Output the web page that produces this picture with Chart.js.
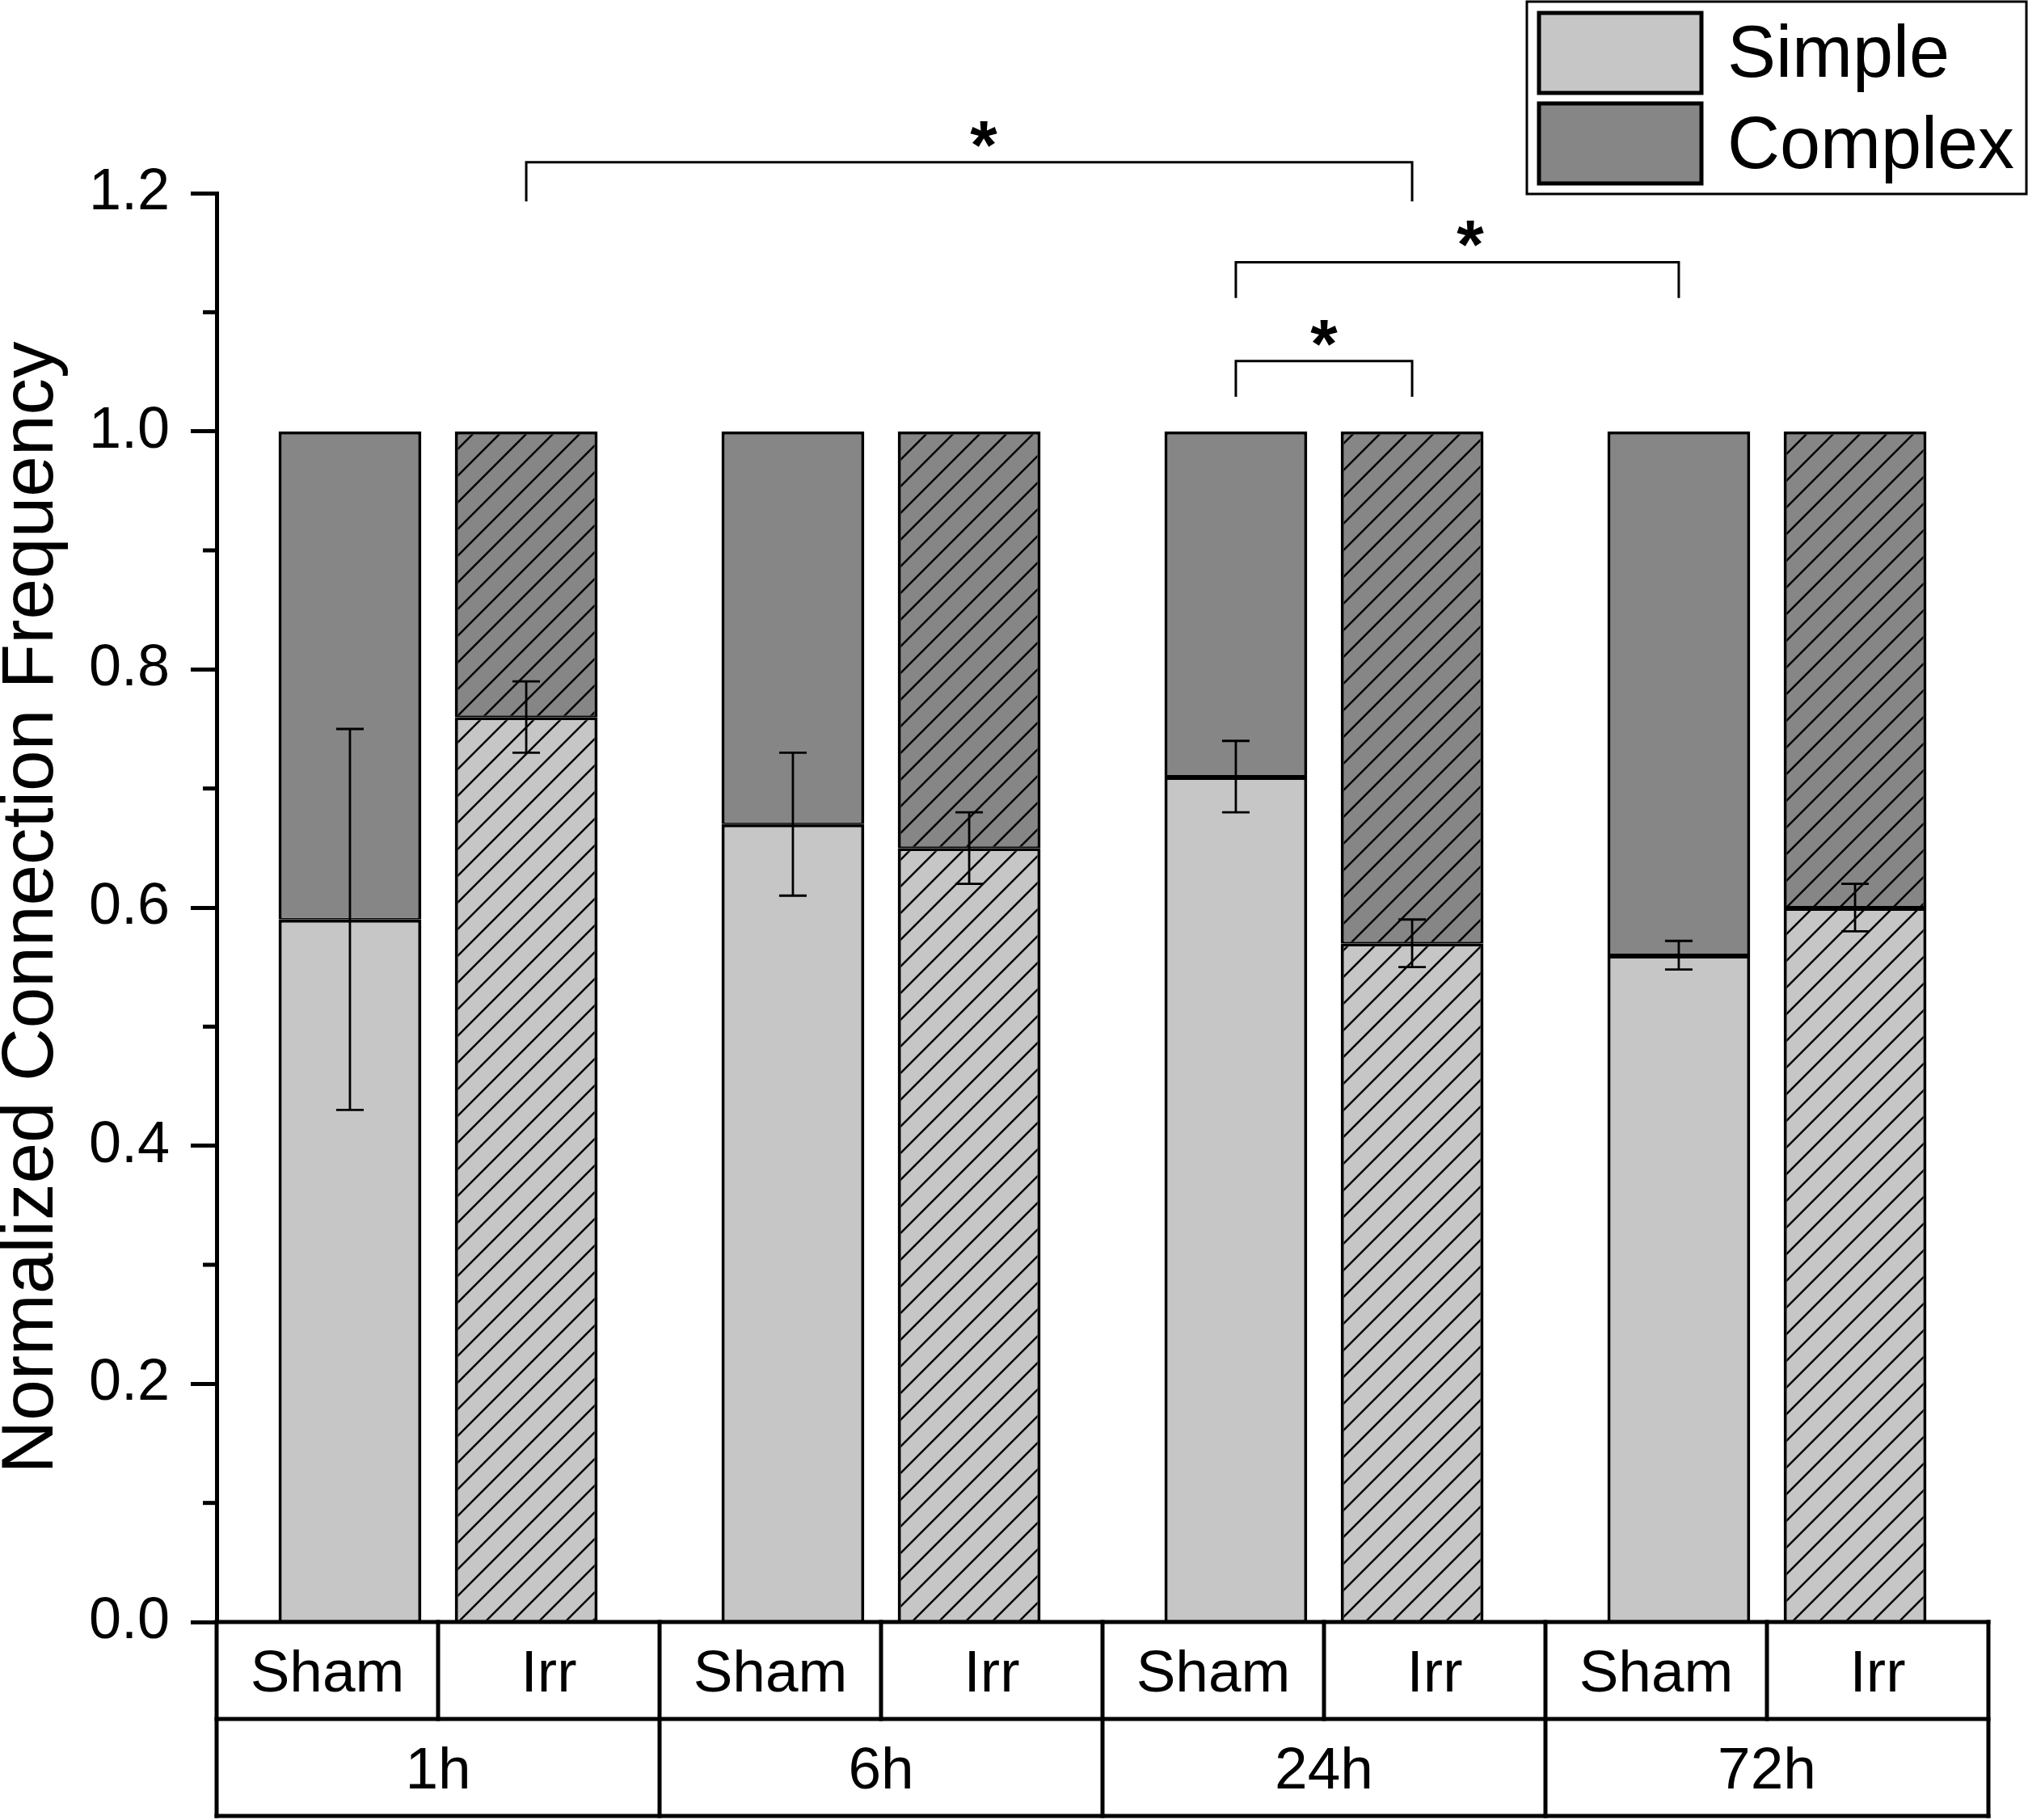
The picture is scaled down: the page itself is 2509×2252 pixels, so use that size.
<!DOCTYPE html>
<html>
<head>
<meta charset="utf-8">
<script src="https://cdn.jsdelivr.net/npm/chart.js@4.4.1/dist/chart.umd.min.js"></script>
<style>
  html, body { margin: 0; padding: 0; background: #fff; overflow: hidden; }
  canvas { display: block; }
</style>
</head>
<body>
<canvas id="chart" width="2509" height="2252"></canvas>
<script>
const groups = ['1h', '6h', '24h', '72h'];
const conditions = ['Sham', 'Irr'];
const seriesNames = ['Simple', 'Complex'];

const shamSimple = [0.59, 0.67, 0.71, 0.56];
const shamComplex = [0.41, 0.33, 0.29, 0.44];
const shamSimpleErr = [0.16, 0.06, 0.03, 0.012];

const irrSimple = [0.76, 0.65, 0.57, 0.60];
const irrComplex = [0.24, 0.35, 0.43, 0.40];
const irrSimpleErr = [0.03, 0.03, 0.02, 0.02];

// significance brackets: dataset index + group index at each end
const brackets = [
  { from: [2, 0], to: [2, 2], y: 1.226, leg: 0.033, dx: 18 },
  { from: [0, 2], to: [0, 3], y: 1.142, leg: 0.030, dx: 16 },
  { from: [0, 2], to: [2, 2], y: 1.059, leg: 0.030, dx: 0 }
];

const FONT = "Arial, 'Liberation Sans', sans-serif";
const LIGHT = '#c6c6c6';
const DARK = '#868686';

const canvas = document.getElementById('chart');
const ctx = canvas.getContext('2d');

function hatch(bg) {
  const s = 33;
  const c = document.createElement('canvas');
  c.width = s; c.height = s;
  const g = c.getContext('2d');
  g.fillStyle = bg;
  g.fillRect(0, 0, s, s);
  g.strokeStyle = '#000';
  g.lineWidth = 2.5;
  g.beginPath();
  g.moveTo(0, s); g.lineTo(s, 0);
  g.moveTo(-s / 2, s / 2); g.lineTo(s / 2, -s / 2);
  g.moveTo(s / 2, s * 1.5); g.lineTo(s * 1.5, s / 2);
  g.stroke();
  return ctx.createPattern(c, 'repeat');
}

function line(c, x1, y1, x2, y2) {
  c.beginPath();
  c.moveTo(x1, y1);
  c.lineTo(x2, y2);
  c.stroke();
}

const extras = {
  id: 'extras',
  afterDraw(chart) {
    const c = chart.ctx;
    const xs = chart.scales.x;
    const ys = chart.scales.y;
    const area = chart.chartArea;
    c.save();
    c.strokeStyle = '#000';
    c.fillStyle = '#000';

    // minor ticks
    c.lineWidth = 5;
    for (let v = 0.1; v < 1.2; v += 0.2) {
      const py = ys.getPixelForValue(v);
      line(c, area.left - 17, py, area.left, py);
    }

    // error bars on the Simple segments
    c.lineWidth = 2.8;
    [[0, shamSimpleErr], [2, irrSimpleErr]].forEach(function(pair) {
      const meta = chart.getDatasetMeta(pair[0]);
      const vals = chart.data.datasets[pair[0]].data;
      meta.data.forEach(function(bar, i) {
        const hi = ys.getPixelForValue(vals[i] + pair[1][i]);
        const lo = ys.getPixelForValue(vals[i] - pair[1][i]);
        line(c, bar.x, hi, bar.x, lo);
        line(c, bar.x - 17, hi, bar.x + 17, hi);
        line(c, bar.x - 17, lo, bar.x + 17, lo);
      });
    });

    // category table under the axis
    const cw = xs.getPixelForValue(1) - xs.getPixelForValue(0);
    const top = area.bottom, mid = top + 120, bot = mid + 120;
    c.lineWidth = 5;
    c.lineCap = 'square';
    line(c, area.left, top, area.right, top);
    line(c, area.left, mid, area.right, mid);
    line(c, area.left, bot, area.right, bot);
    c.textAlign = 'center';
    c.textBaseline = 'alphabetic';
    c.font = '73px ' + FONT;
    groups.forEach(function(g, i) {
      const cx = xs.getPixelForValue(i);
      line(c, cx - cw / 2, top, cx - cw / 2, bot);
      line(c, cx, top, cx, mid);
      c.fillText(conditions[0], cx - cw / 4, (top + mid) / 2 + 26);
      c.fillText(conditions[1], cx + cw / 4, (top + mid) / 2 + 26);
      c.fillText(g, cx, (mid + bot) / 2 + 26);
    });
    line(c, area.right, top, area.right, bot);
    c.lineCap = 'butt';

    // significance brackets
    c.lineWidth = 3;
    c.font = 'bold 86px ' + FONT;
    brackets.forEach(function(b) {
      const x1 = chart.getDatasetMeta(b.from[0]).data[b.from[1]].x;
      const x2 = chart.getDatasetMeta(b.to[0]).data[b.to[1]].x;
      const py = ys.getPixelForValue(b.y);
      const pl = ys.getPixelForValue(b.y - b.leg);
      c.beginPath();
      c.moveTo(x1, pl);
      c.lineTo(x1, py);
      c.lineTo(x2, py);
      c.lineTo(x2, pl);
      c.stroke();
      c.fillText('*', (x1 + x2) / 2 + b.dx, py + 8);
    });

    // legend
    c.lineWidth = 3;
    c.strokeRect(1889, 2, 618, 238);
    c.lineWidth = 5;
    c.textAlign = 'left';
    c.font = '90px ' + FONT;
    [LIGHT, DARK].forEach(function(col, i) {
      const sy = i === 0 ? 14 : 126;
      c.fillStyle = col;
      c.fillRect(1904, sy + 2, 201, 99);
      c.strokeRect(1904, sy + 2, 201, 99);
      c.fillStyle = '#000';
      c.fillText(seriesNames[i], 2137, i === 0 ? 95 : 208);
    });
    c.restore();
  }
};

const barStyle = {
  borderColor: '#000',
  borderWidth: { top: 4, bottom: 2, left: 4, right: 4 },
  borderSkipped: false,
  categoryPercentage: 0.796,
  barPercentage: 0.81
};

const chart = new Chart(ctx, {
  type: 'bar',
  data: {
    labels: groups,
    datasets: [
      Object.assign({ label: 'Sham ' + seriesNames[0], data: shamSimple, stack: 'Sham', backgroundColor: LIGHT }, barStyle),
      Object.assign({ label: 'Sham ' + seriesNames[1], data: shamComplex, stack: 'Sham', backgroundColor: DARK }, barStyle),
      Object.assign({ label: 'Irr ' + seriesNames[0], data: irrSimple, stack: 'Irr', backgroundColor: hatch(LIGHT) }, barStyle),
      Object.assign({ label: 'Irr ' + seriesNames[1], data: irrComplex, stack: 'Irr', backgroundColor: hatch(DARK) }, barStyle)
    ]
  },
  options: {
    responsive: false,
    devicePixelRatio: 1,
    animation: false,
    layout: { padding: { left: 0, top: 239, right: 49, bottom: 245 } },
    plugins: {
      legend: { display: false },
      tooltip: { enabled: false }
    },
    scales: {
      x: { display: false, stacked: true },
      y: {
        stacked: true,
        min: 0,
        max: 1.2,
        ticks: {
          stepSize: 0.2,
          color: '#000',
          padding: 26,
          font: { family: FONT, size: 72 },
          callback: function(v) { return v.toFixed(1); }
        },
        grid: {
          drawOnChartArea: false,
          drawTicks: true,
          tickLength: 32,
          tickWidth: 5,
          tickColor: '#000'
        },
        border: { display: true, color: '#000', width: 5 },
        title: {
          display: true,
          text: 'Normalized Connection Frequency',
          color: '#000',
          padding: 0,
          font: { family: FONT, size: 91, lineHeight: 0.88 }
        },
        afterFit: function(scale) { scale.width = 268; }
      }
    }
  },
  plugins: [extras]
});
</script>
</body>
</html>
